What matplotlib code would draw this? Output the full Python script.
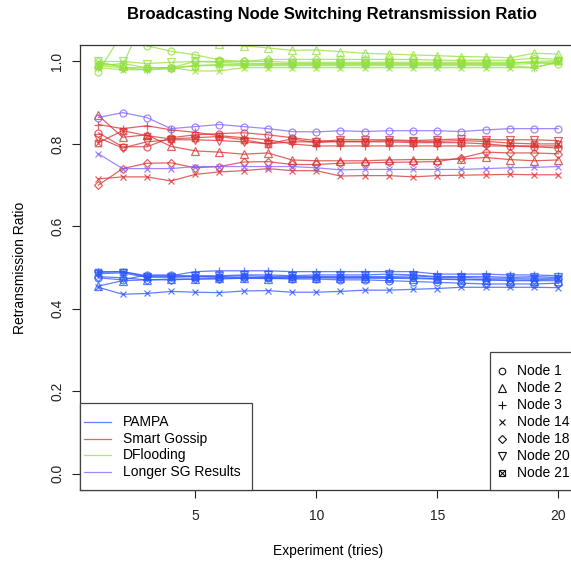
import matplotlib
matplotlib.use("Agg")
import matplotlib.pyplot as plt
from matplotlib.path import Path
from matplotlib.lines import Line2D
from matplotlib.patches import Rectangle

plt.rcParams['font.family'] = ['Liberation Sans', 'DejaVu Sans']

experiments = list(range(1, 21))
groups = ["PAMPA", "Smart Gossip", "DFlooding", "Longer SG Results"]
node_names = ["Node 1", "Node 2", "Node 3", "Node 14", "Node 18", "Node 20", "Node 21"]

pampa = {
    "Node 1":  [0.475, 0.470, 0.482, 0.482, 0.478, 0.476, 0.476, 0.474, 0.472, 0.472, 0.470, 0.470, 0.468, 0.466, 0.464, 0.462, 0.460, 0.460, 0.460, 0.462],
    "Node 2":  [0.455, 0.468, 0.470, 0.472, 0.472, 0.474, 0.474, 0.473, 0.474, 0.475, 0.474, 0.474, 0.474, 0.473, 0.472, 0.470, 0.470, 0.468, 0.468, 0.468],
    "Node 3":  [0.490, 0.490, 0.480, 0.480, 0.490, 0.492, 0.492, 0.492, 0.490, 0.490, 0.490, 0.490, 0.490, 0.490, 0.484, 0.484, 0.484, 0.482, 0.482, 0.480],
    "Node 14": [0.452, 0.435, 0.437, 0.442, 0.440, 0.439, 0.443, 0.444, 0.440, 0.440, 0.442, 0.445, 0.445, 0.447, 0.449, 0.452, 0.452, 0.452, 0.452, 0.451],
    "Node 18": [0.478, 0.475, 0.470, 0.470, 0.472, 0.472, 0.474, 0.476, 0.476, 0.476, 0.476, 0.476, 0.475, 0.476, 0.472, 0.472, 0.470, 0.470, 0.470, 0.472],
    "Node 20": [0.485, 0.487, 0.476, 0.478, 0.480, 0.480, 0.482, 0.482, 0.480, 0.482, 0.482, 0.482, 0.484, 0.482, 0.478, 0.478, 0.478, 0.476, 0.478, 0.476],
    "Node 21": [0.488, 0.490, 0.478, 0.476, 0.478, 0.478, 0.480, 0.478, 0.478, 0.478, 0.478, 0.478, 0.478, 0.480, 0.476, 0.476, 0.474, 0.474, 0.474, 0.474],
}
smart_gossip = {
    "Node 1":  [0.827, 0.793, 0.793, 0.815, 0.822, 0.825, 0.827, 0.822, 0.815, 0.808, 0.805, 0.805, 0.805, 0.803, 0.803, 0.803, 0.800, 0.795, 0.793, 0.790],
    "Node 2":  [0.869, 0.816, 0.822, 0.794, 0.783, 0.780, 0.775, 0.778, 0.761, 0.759, 0.759, 0.759, 0.761, 0.762, 0.762, 0.763, 0.767, 0.762, 0.759, 0.761],
    "Node 3":  [0.847, 0.837, 0.844, 0.834, 0.828, 0.820, 0.815, 0.810, 0.800, 0.795, 0.795, 0.795, 0.795, 0.795, 0.795, 0.795, 0.795, 0.795, 0.795, 0.795],
    "Node 14": [0.715, 0.720, 0.720, 0.710, 0.726, 0.732, 0.735, 0.740, 0.735, 0.735, 0.722, 0.723, 0.723, 0.720, 0.723, 0.724, 0.725, 0.726, 0.725, 0.725],
    "Node 18": [0.700, 0.740, 0.753, 0.754, 0.742, 0.745, 0.756, 0.757, 0.750, 0.750, 0.753, 0.754, 0.755, 0.756, 0.757, 0.766, 0.780, 0.778, 0.778, 0.776],
    "Node 20": [0.815, 0.790, 0.805, 0.810, 0.810, 0.808, 0.805, 0.800, 0.805, 0.805, 0.810, 0.810, 0.810, 0.808, 0.810, 0.812, 0.810, 0.810, 0.810, 0.808],
    "Node 21": [0.803, 0.832, 0.820, 0.812, 0.815, 0.818, 0.810, 0.800, 0.812, 0.803, 0.806, 0.806, 0.808, 0.806, 0.806, 0.808, 0.806, 0.802, 0.800, 0.800],
}
dflooding = {
    "Node 1":  [0.975, 1.070, 1.038, 1.025, 1.016, 1.004, 1.000, 1.000, 0.998, 0.998, 0.998, 0.998, 0.998, 0.998, 0.998, 0.998, 0.998, 0.998, 0.998, 0.993],
    "Node 2":  [0.995, 0.990, 1.120, 1.090, 1.060, 1.042, 1.038, 1.033, 1.027, 1.028, 1.024, 1.020, 1.018, 1.016, 1.014, 1.012, 1.011, 1.009, 1.020, 1.018],
    "Node 3":  [0.990, 0.985, 0.980, 0.982, 0.990, 0.990, 0.990, 0.990, 0.990, 0.990, 0.990, 0.990, 0.990, 0.990, 0.990, 0.990, 0.990, 0.990, 0.985, 1.000],
    "Node 14": [0.985, 0.980, 0.980, 0.985, 0.977, 0.977, 0.985, 0.985, 0.985, 0.985, 0.985, 0.985, 0.985, 0.985, 0.985, 0.985, 0.985, 0.985, 0.985, 0.998],
    "Node 18": [1.000, 0.985, 0.985, 0.985, 1.000, 1.000, 1.000, 1.005, 1.005, 1.005, 1.005, 1.005, 1.005, 1.005, 1.003, 1.003, 1.003, 1.003, 1.008, 1.005],
    "Node 20": [1.000, 1.000, 0.995, 0.998, 1.000, 0.998, 0.995, 0.995, 0.995, 0.995, 0.995, 0.995, 0.995, 0.995, 0.995, 0.995, 0.995, 0.995, 1.000, 1.002],
    "Node 21": [0.990, 0.995, 0.985, 0.985, 0.990, 0.993, 0.993, 0.993, 0.993, 0.993, 0.993, 0.993, 0.993, 0.993, 0.993, 0.993, 0.993, 0.993, 0.995, 1.000],
}
longer_sg = {
    "Node 1":  [0.864, 0.876, 0.864, 0.837, 0.842, 0.847, 0.842, 0.837, 0.830, 0.829, 0.832, 0.830, 0.832, 0.832, 0.832, 0.830, 0.834, 0.837, 0.837, 0.837],
    "Node 14": [0.776, 0.740, 0.740, 0.740, 0.745, 0.745, 0.745, 0.745, 0.745, 0.742, 0.737, 0.738, 0.738, 0.738, 0.738, 0.738, 0.740, 0.742, 0.743, 0.745],
}

x_ticks = [5, 10, 15, 20]
y_ticks = [0.0, 0.2, 0.4, 0.6, 0.8, 1.0]

colors = {"PAMPA": "#2a55ff", "Smart Gossip": "#d83030",
          "DFlooding": "#92e03a", "Longer SG Results": "#8060ff"}
data = {"PAMPA": pampa, "Smart Gossip": smart_gossip,
        "DFlooding": dflooding, "Longer SG Results": longer_sg}

sqx = Path([(-1, -1), (1, -1), (1, 1), (-1, 1), (-1, -1), (-1, -1), (1, 1), (-1, 1), (1, -1)],
           [Path.MOVETO, Path.LINETO, Path.LINETO, Path.LINETO, Path.CLOSEPOLY,
            Path.MOVETO, Path.LINETO, Path.MOVETO, Path.LINETO])
markers = {"Node 1": ("o", 5.0), "Node 2": ("^", 5.5), "Node 3": ("+", 5.5),
           "Node 14": ("x", 4.5), "Node 18": ("D", 4.2), "Node 20": ("v", 5.5),
           "Node 21": (sqx, 4.6)}

W, H = 571, 562
fig = plt.figure(figsize=(W / 100, H / 100), dpi=100)
ax_left, ax_right, ax_top, ax_bot = 80, 576.6, 45, 490
ax = fig.add_axes([ax_left / W, 1 - ax_bot / H, (ax_right - ax_left) / W, (ax_bot - ax_top) / H])

for g in groups:
    for n, vals in data[g].items():
        m, ms = markers[n]
        ax.plot(experiments, vals, color=colors[g], alpha=0.75, lw=0.9,
                marker=m, ms=ms, mfc="none", mec=colors[g], mew=0.9)

ax.set_xlim(0.24, 20.76)
ax.set_ylim(-0.04, 1.04)
ax.set_xticks(x_ticks)
ax.set_yticks(y_ticks)
ax.set_yticklabels([f"{v:.1f}" for v in y_ticks], rotation=90, va="center")
ax.tick_params(direction="out", length=5.5, width=0.8, colors="#222222", labelsize=10)
ax.tick_params(axis="x", pad=8)
ax.tick_params(axis="y", pad=6)
for s in ax.spines.values():
    s.set_color("#333333")
    s.set_linewidth(0.9)

ax.set_xlabel("Experiment (tries)", fontsize=10)
ax.xaxis.set_label_coords(0.5, (ax_bot - 551) / (ax_bot - ax_top))
ax.xaxis.label.set_va("center")
ax.set_ylabel("Retransmission Ratio", fontsize=10)
ax.yaxis.set_label_coords((20 - ax_left) / (ax_right - ax_left), 0.5)
ax.yaxis.label.set_va("center")

fig.text(332 / W, 1 - 14 / H, "Broadcasting Node Switching Retransmission Ratio",
         ha="center", va="center", fontsize=12, fontweight="bold")

def fx(px):
    return px / W

def fy(py):
    return 1 - py / H

# legend 1 (groups)
fig.add_artist(Rectangle((fx(80), fy(490)), fx(252) - fx(80), fy(403) - fy(490),
                         transform=fig.transFigure, fc="white", ec="#444444", lw=0.9))
for i, g in enumerate(groups):
    yy = 422 + 16.7 * i
    fig.add_artist(Line2D([fx(84), fx(111)], [fy(yy), fy(yy)], transform=fig.transFigure,
                          color=colors[g], alpha=0.75, lw=0.9))
    fig.text(fx(123), fy(yy), g, ha="left", va="center", fontsize=10)

# legend 2 (nodes)
fig.add_artist(Rectangle((fx(490), fy(490)), fx(576) - fx(490), fy(352) - fy(490),
                         transform=fig.transFigure, fc="white", ec="#444444", lw=0.9))
for i, n in enumerate(node_names):
    yy = 371 + 17 * i
    m, ms = markers[n]
    fig.add_artist(Line2D([fx(502)], [fy(yy)], transform=fig.transFigure, ls="none",
                          marker=m, ms=ms * 0.95, mfc="none", mec="#111111", mew=0.8))
    fig.text(fx(517), fy(yy), n, ha="left", va="center", fontsize=10)

fig.savefig("out.png", dpi=100)
